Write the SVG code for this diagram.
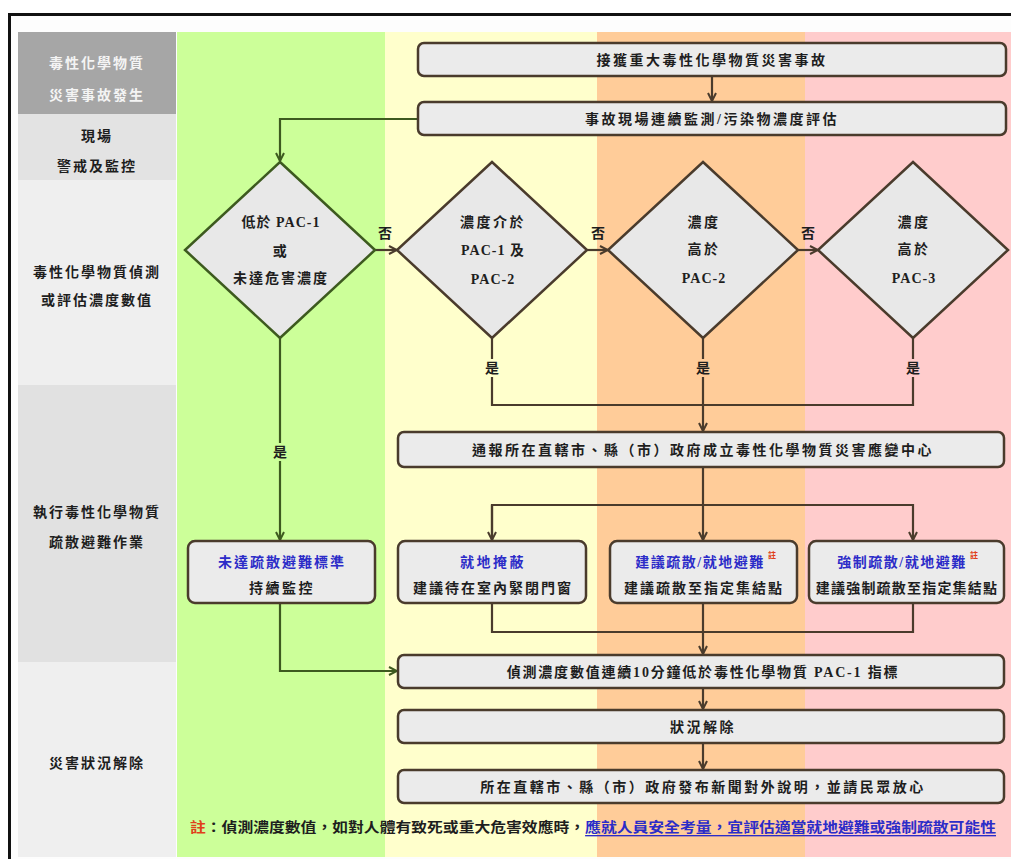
<svg xmlns="http://www.w3.org/2000/svg" width="1011" height="859" viewBox="0 0 1011 859">
<style>
text{font-family:"Liberation Serif","Noto Sans CJK TC",serif;font-weight:bold;font-size:14px;fill:#1e1e1e;text-anchor:middle;dominant-baseline:central;letter-spacing:2.5px}
.box{fill:#ebebeb;stroke:#4a3b2c;stroke-width:2.5}
.dia{fill:#e8e8e8;stroke:#4a3b2c;stroke-width:2.5}
.diag{fill:#e8e8e8;stroke:#3d5a1f;stroke-width:2.5}
.ln{fill:none;stroke:#4a3b2c;stroke-width:2.2}
.lng{fill:none;stroke:#3d5a1f;stroke-width:2.2}
.blue{fill:#2c2cc8}
.wt{fill:#f4f4f4}
.lab{font-size:14px;letter-spacing:0}
.side{letter-spacing:2px}
.sup{font-size:8px;fill:#e0401a;letter-spacing:0}
</style>
<defs>
<marker id="ah" markerWidth="10" markerHeight="10" refX="9" refY="5" orient="auto" markerUnits="userSpaceOnUse">
<path d="M1,1 L9,5 L1,9" fill="none" stroke="#4a3b2c" stroke-width="2"/>
</marker>
<marker id="ahg" markerWidth="10" markerHeight="10" refX="9" refY="5" orient="auto" markerUnits="userSpaceOnUse">
<path d="M1,1 L9,5 L1,9" fill="none" stroke="#3d5a1f" stroke-width="2"/>
</marker>
</defs>
<rect x="0" y="0" width="1011" height="859" fill="#ffffff"/>
<rect x="9.5" y="14.5" width="1010" height="850" fill="#fdfdfd" stroke="#111" stroke-width="3"/>
<g id="lanes">
<rect x="177" y="32" width="208" height="825" fill="#ccff99"/>
<rect x="385" y="32" width="212" height="825" fill="#ffffcc"/>
<rect x="597" y="32" width="208" height="825" fill="#ffcc99"/>
<rect x="805" y="32" width="206" height="825" fill="#ffcccc"/>
</g>
<g id="stages">
<rect x="18" y="32" width="158" height="82" fill="#a6a6a6"/>
<text class="wt side" x="97" y="63">毒性化學物質</text>
<text class="wt side" x="97" y="95">災害事故發生</text>
<rect x="18" y="114" width="158" height="66" fill="#e3e3e3"/>
<text class="side" x="97" y="136">現場</text>
<text class="side" x="97" y="166">警戒及監控</text>
<rect x="18" y="180" width="158" height="205" fill="#efefef"/>
<text class="side" x="97" y="272">毒性化學物質偵測</text>
<text class="side" x="97" y="300">或評估濃度數值</text>
<rect x="18" y="385" width="158" height="277" fill="#e1e1e1"/>
<text class="side" x="97" y="512">執行毒性化學物質</text>
<text class="side" x="97" y="542">疏散避難作業</text>
<rect x="18" y="662" width="158" height="195" fill="#efefef"/>
<text class="side" x="97" y="763">災害狀況解除</text>
</g>
<g id="connectors">
<path class="ln" d="M712,76 V101" marker-end="url(#ah)"/>
<path class="lng" d="M418,119 H280 V161" marker-end="url(#ahg)"/>
<path class="ln" d="M375,250 H397" marker-end="url(#ah)"/>
<path class="ln" d="M587,250 H608" marker-end="url(#ah)"/>
<path class="ln" d="M798,250 H818" marker-end="url(#ah)"/>
<path class="ln" d="M492,338 V405 H913 V338"/>
<path class="ln" d="M703,338 V431" marker-end="url(#ah)"/>
<path class="lng" d="M280,338 V540" marker-end="url(#ahg)"/>
<path class="ln" d="M703,467 V540" marker-end="url(#ah)"/>
<path class="ln" d="M492,540 V505 H913 V540" marker-end="url(#ah)"/>
<path class="ln" d="M492,505 V540" marker-end="url(#ah)"/>
<path class="ln" d="M492,603 V632 H913 V603"/>
<path class="ln" d="M703,603 V654" marker-end="url(#ah)"/>
<path class="lng" d="M280,603 V671 H397" marker-end="url(#ahg)"/>
<path class="ln" d="M703,688 V709" marker-end="url(#ah)"/>
<path class="ln" d="M703,743 V769" marker-end="url(#ah)"/>
<text class="lab" x="385" y="233">否</text>
<text class="lab" x="598" y="233">否</text>
<text class="lab" x="808" y="233">否</text>
<rect x="483" y="359" width="18" height="18" fill="#ffffcc"/>
<text class="lab" x="492" y="368">是</text>
<rect x="694" y="359" width="18" height="18" fill="#ffcc99"/>
<text class="lab" x="703" y="368">是</text>
<rect x="904" y="359" width="18" height="18" fill="#ffcccc"/>
<text class="lab" x="913" y="368">是</text>
<rect x="271" y="443" width="18" height="18" fill="#ccff99"/>
<text class="lab" x="280" y="452">是</text>
</g>
<g id="n-start">
<rect class="box" x="418" y="43" width="588" height="33" rx="6"/>
<text x="712" y="60">接獲重大毒性化學物質災害事故</text>
</g>
<g id="n-monitor">
<rect class="box" x="418" y="102" width="588" height="33" rx="6"/>
<text x="712" y="119">事故現場連續監測/污染物濃度評估</text>
</g>
<g id="d1">
<polygon class="diag" points="280,162 375,250 280,338 185,250"/>
<text x="281" y="222" style="letter-spacing:1px">低於 PAC-1</text>
<text x="281" y="251">或</text>
<text x="281" y="278" style="letter-spacing:2px">未達危害濃度</text>
</g>
<g id="d2">
<polygon class="dia" points="492,162 587,250 492,338 397,250"/>
<text x="493" y="222">濃度介於</text>
<text x="493" y="250" style="letter-spacing:1px">PAC-1 及</text>
<text x="493" y="279" style="letter-spacing:1px">PAC-2</text>
</g>
<g id="d3">
<polygon class="dia" points="703,162 798,250 703,338 608,250"/>
<text x="704" y="222">濃度</text>
<text x="704" y="249">高於</text>
<text x="704" y="278" style="letter-spacing:1px">PAC-2</text>
</g>
<g id="d4">
<polygon class="dia" points="913,162 1008,250 913,338 818,250"/>
<text x="914" y="222">濃度</text>
<text x="914" y="249">高於</text>
<text x="914" y="278" style="letter-spacing:1px">PAC-3</text>
</g>
<g id="n-notify">
<rect class="box" x="398" y="432" width="606" height="35" rx="6"/>
<text x="703" y="450">通報所在直轄市、縣（市）政府成立毒性化學物質災害應變中心</text>
</g>
<g id="n-none">
<rect class="box" x="188" y="541" width="187" height="62" rx="7"/>
<text class="blue" x="282" y="562" style="letter-spacing:2px">未達疏散避難標準</text>
<text x="282" y="588">持續監控</text>
</g>
<g id="n-shelter">
<rect class="box" x="398" y="541" width="188" height="62" rx="7"/>
<text class="blue" x="493" y="562">就地掩蔽</text>
<text x="493" y="588" style="letter-spacing:2px">建議待在室內緊閉門窗</text>
</g>
<g id="n-suggest">
<rect class="box" x="610" y="541" width="187" height="62" rx="7"/>
<text class="blue" x="700" y="562" style="letter-spacing:1.5px">建議疏散/就地避難</text>
<text class="sup" x="772" y="555">註</text>
<text x="704" y="588" style="letter-spacing:2px">建議疏散至指定集結點</text>
</g>
<g id="n-force">
<rect class="box" x="809" y="541" width="195" height="62" rx="7"/>
<text class="blue" x="902" y="562" style="letter-spacing:1.5px">強制疏散/就地避難</text>
<text class="sup" x="974" y="555">註</text>
<text x="907" y="588" style="letter-spacing:1.2px">建議強制疏散至指定集結點</text>
</g>
<g id="n-detect">
<rect class="box" x="398" y="655" width="606" height="33" rx="6"/>
<text x="703" y="672" style="letter-spacing:1.8px">偵測濃度數值連續10分鐘低於毒性化學物質 PAC-1 指標</text>
</g>
<g id="n-clear">
<rect class="box" x="398" y="710" width="606" height="33" rx="6"/>
<text x="703" y="727">狀況解除</text>
</g>
<g id="n-announce">
<rect class="box" x="398" y="770" width="606" height="33" rx="6"/>
<text x="703" y="787">所在直轄市、縣（市）政府發布新聞對外說明，並請民眾放心</text>
</g>
<g id="footnote">
<text x="190" y="827" textLength="806" lengthAdjust="spacingAndGlyphs" style="text-anchor:start;letter-spacing:0;font-size:13.5px"><tspan fill="#e0401a">註</tspan>：偵測濃度數值，如對人體有致死或重大危害效應時，<tspan fill="#2c2cc8" text-decoration="underline">應就人員安全考量，宜評估適當就地避難或強制疏散可能性</tspan></text>
</g>
</svg>
